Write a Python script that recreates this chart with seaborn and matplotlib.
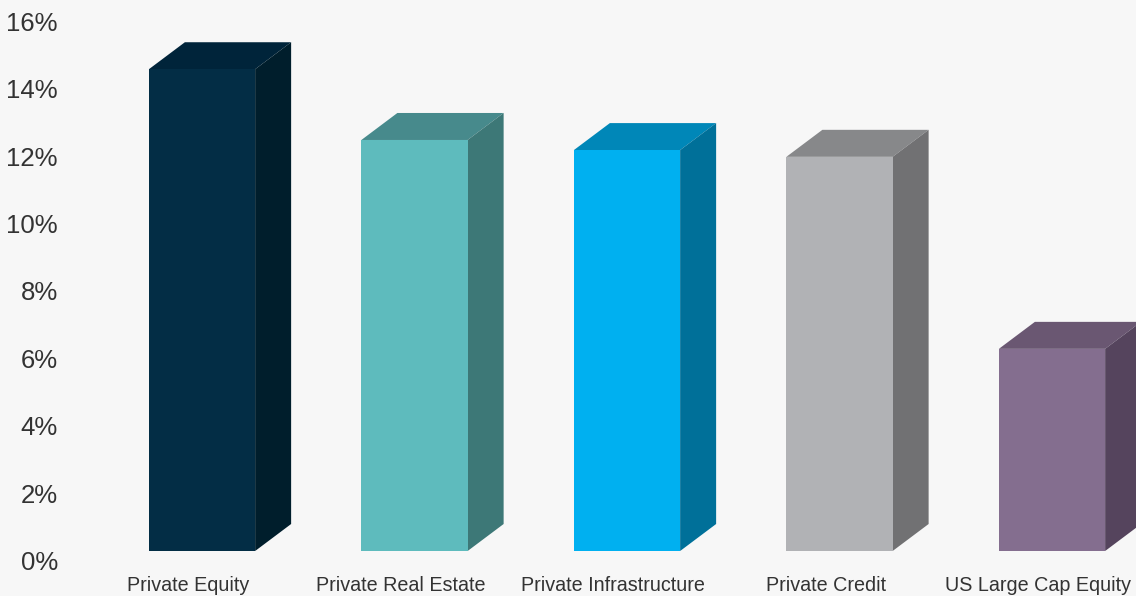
import numpy as np
import pandas as pd
import matplotlib
matplotlib.use("Agg")
import matplotlib.pyplot as plt
import matplotlib.transforms as mtransforms
from matplotlib.patches import Polygon
import seaborn as sns

categories = ["Private Equity", "Private Real Estate", "Private Infrastructure",
              "Private Credit", "US Large Cap Equity"]
values = [14.3, 12.2, 11.9, 11.7, 6.0]
front_colors = ["#032D45", "#5EBBBD", "#00B0F0", "#B1B2B5", "#846E8F"]
top_colors = ["#00243A", "#478A8C", "#0087B8", "#87888A", "#6A5772"]
side_colors = ["#001E2C", "#3D7877", "#007099", "#717173", "#55445D"]
y_ticks = [0, 2, 4, 6, 8, 10, 12, 14, 16]
y_tick_labels = ["0%", "2%", "4%", "6%", "8%", "10%", "12%", "14%", "16%"]

BG = "#F7F7F7"
sns.set_style("white")
plt.rcParams["font.family"] = ["Liberation Sans", "DejaVu Sans"]

W, H = 1136, 596
fig = plt.figure(figsize=(W / 100, H / 100), dpi=100, facecolor=BG)
ax_left_px, ax_bottom_px = 62, 566
ax = fig.add_axes([ax_left_px / W, (H - ax_bottom_px) / H, 1 - ax_left_px / W, ax_bottom_px / H])
ax.set_facecolor(BG)

df = pd.DataFrame({"category": categories, "value": values})
sns.barplot(data=df, x="category", y="value", hue="category", palette=front_colors,
            width=0.5, saturation=1, legend=False, ax=ax, linewidth=0)

# pixel scale
px_per_x = 212.5
px_per_y = 33.69
base_px = 551
ax.set_xlim((ax_left_px - 202) / px_per_x, (W - 202) / px_per_x)
ax.set_ylim((base_px - ax_bottom_px) / px_per_y, base_px / px_per_y)

dx = 36 / px_per_x
dy = 27 / px_per_y
for patch, tc, sc in zip(ax.patches, top_colors, side_colors):
    x0 = patch.get_x()
    x1 = x0 + patch.get_width()
    h = patch.get_height()
    top = Polygon([(x0, h), (x1, h), (x1 + dx, h + dy), (x0 + dx, h + dy)],
                  closed=True, facecolor=tc, edgecolor="none", clip_on=False, zorder=1)
    side = Polygon([(x1, 0), (x1, h), (x1 + dx, h + dy), (x1 + dx, dy)],
                   closed=True, facecolor=sc, edgecolor="none", clip_on=False, zorder=1)
    ax.add_patch(top)
    ax.add_patch(side)
for patch in ax.patches[:len(categories)]:
    patch.set_zorder(2)
    patch.set_clip_on(False)

ax.set_xticks(np.arange(len(categories)) - 0.065)
ax.set_xticklabels(categories, fontsize=14.2, color="#333333")
ax.set_yticks(y_ticks)
ax.set_yticklabels(y_tick_labels, fontsize=18.5, color="#333333")
ax.tick_params(axis="x", length=0, pad=7)
ax.tick_params(axis="y", length=0, pad=3)
shift = mtransforms.ScaledTranslation(0, -0.095, fig.dpi_scale_trans)
for lab in ax.get_yticklabels():
    lab.set_transform(lab.get_transform() + shift)
ax.set_xlabel("")
ax.set_ylabel("")
for s in ax.spines.values():
    s.set_visible(False)

fig.savefig("out.png", dpi=100, facecolor=BG)
